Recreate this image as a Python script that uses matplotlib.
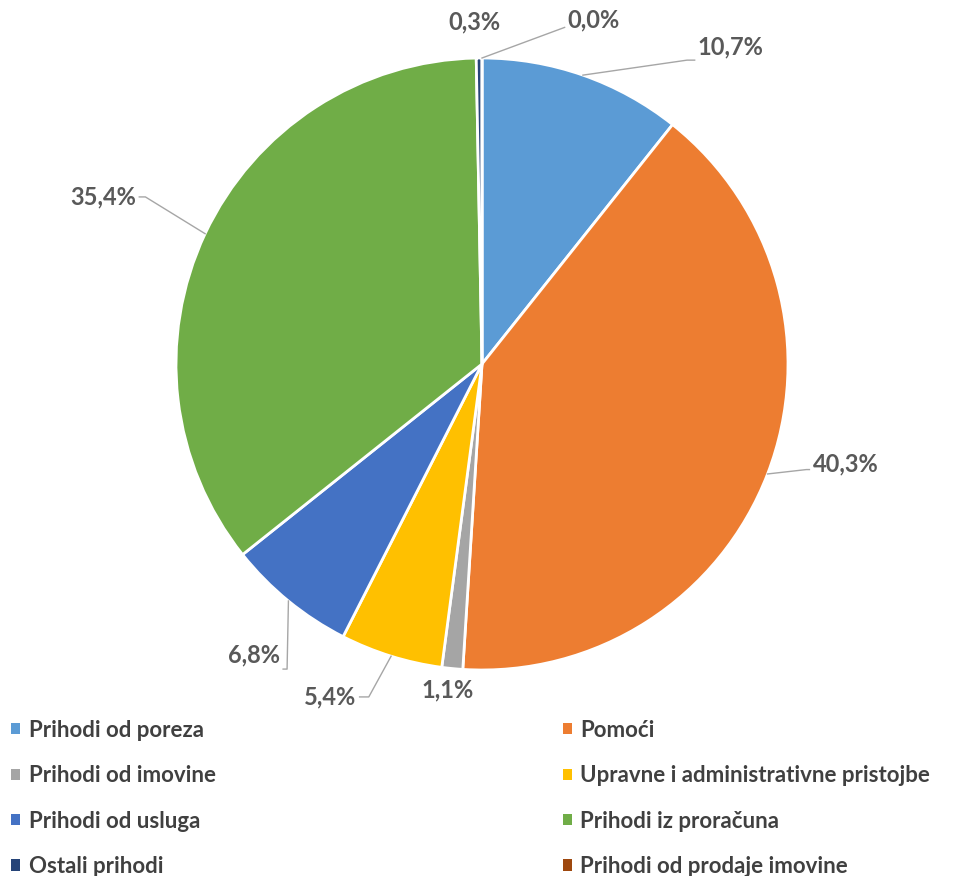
import matplotlib.pyplot as plt
import numpy as np
from matplotlib.patches import Patch

plt.rcParams['font.family'] = ['Lato', 'DejaVu Sans']

categories = ["Prihodi od poreza", "Pomoći", "Prihodi od imovine",
              "Upravne i administrativne pristojbe", "Prihodi od usluga",
              "Prihodi iz proračuna", "Ostali prihodi", "Prihodi od prodaje imovine"]
shares = [10.7, 40.3, 1.1, 5.4, 6.8, 35.4, 0.3, 0.0]
labels = ["10,7%", "40,3%", "1,1%", "5,4%", "6,8%", "35,4%", "0,3%", "0,0%"]
colors = ["#5B9BD5", "#ED7D31", "#A5A5A5", "#FFC000", "#4472C4",
          "#70AD47", "#264478", "#9E480E"]

W, H = 971, 876
fig = plt.figure(figsize=(W / 100, H / 100), dpi=100)
cx, cy, R = 482, 364, 306
ax = fig.add_axes([(cx - R) / W, (H - cy - R) / H, 2 * R / W, 2 * R / H])

ax.pie(shares, colors=colors, startangle=90, counterclock=False, radius=1,
       wedgeprops=dict(edgecolor="white", linewidth=2))
ax.set_xlim(-1, 1)
ax.set_ylim(-1, 1)
ax.set_aspect("equal")
ax.axis("off")

# label placement in pie units: text x, text y, elbow x, elbow y, alignment
place = [
    (0.705, 1.036, 0.67, 0.993, "left"),
    (1.08, -0.327, 1.06, -0.345, "left"),
    (-0.114, -1.065, None, None, "center"),
    (-0.41, -1.088, -0.37, -1.088, "right"),
    (-0.66, -0.951, -0.637, -0.997, "right"),
    (-1.13, 0.546, -1.10, 0.546, "right"),
    (-0.026, 1.118, None, None, "center"),
    (0.28, 1.124, 0.27, 1.10, "left"),
]

cum = np.cumsum([0] + shares)
txt_col = "#595959"
for i, lab in enumerate(labels):
    mid = 90 - (cum[i] + shares[i] / 2) * 3.6
    px, py = np.cos(np.radians(mid)), np.sin(np.radians(mid))
    tx, ty, ex, ey, ha = place[i]
    if ex is not None:
        end = tx - 0.01 if ha == "left" else tx + 0.01
        ax.plot([px, ex, end], [py, ey, ey], color="#A6A6A6", lw=1, clip_on=False)
    ax.text(tx, ty, lab, ha=ha, va="center", fontsize=17, fontweight="bold",
            color=txt_col, clip_on=False)

order = [0, 2, 4, 6, 1, 3, 5, 7]
handles = [Patch(facecolor=colors[k], edgecolor="none") for k in order]
fig.legend(handles, [categories[k] for k in order], ncol=2,
           loc="lower left", bbox_to_anchor=(-0.009, -0.024), frameon=False,
           prop=dict(size=16, weight="bold"), labelcolor="#404040",
           handlelength=0.4, handleheight=0.4, handletextpad=0.4,
           labelspacing=1.1, columnspacing=15.6)

fig.savefig("out.png", dpi=100)
